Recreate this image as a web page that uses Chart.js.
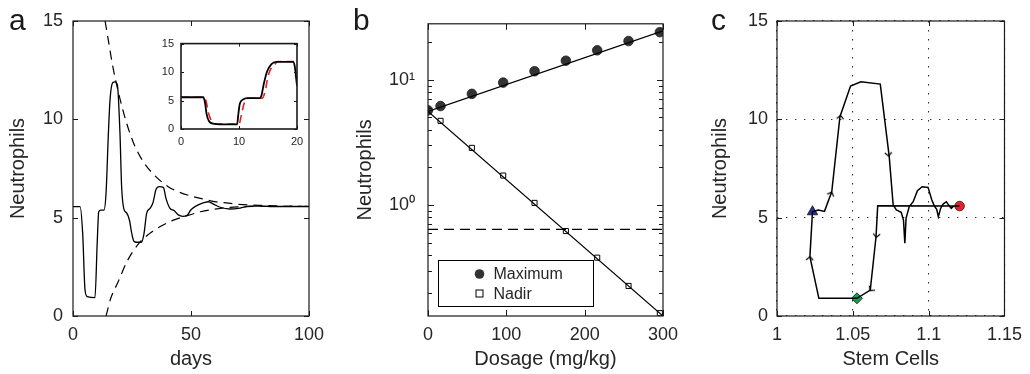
<!DOCTYPE html>
<html>
<head>
<meta charset="utf-8">
<script src="https://cdn.jsdelivr.net/npm/chart.js"></script>
<style>
  body { margin: 0; background: #fff; }
  #wrap { position: relative; width: 1030px; height: 374px; overflow: hidden; }
  canvas { position: absolute; }
  .tag { position: absolute; font: 30px "Liberation Sans", Arial, sans-serif; line-height: 30px; color: #1a1a1a; }
</style>
</head>
<body>
<div id="wrap">
  <canvas id="pa" width="340" height="374" style="left:0;top:0"></canvas>
  <canvas id="inset" width="165" height="125" style="left:150px;top:30px"></canvas>
  <canvas id="pb" width="350" height="374" style="left:340px;top:0"></canvas>
  <canvas id="pc" width="340" height="374" style="left:690px;top:0"></canvas>
  <div class="tag" style="left:9px;top:5px">a</div>
  <div class="tag" style="left:353px;top:5px">b</div>
  <div class="tag" style="left:711px;top:5px">c</div>
</div>
<script>
// ---- panel a: neutrophils over time
const daysA = [0, 3, 4.1, 5.1, 6.1, 9.3, 10.3, 10.9, 11.7, 13.1, 14.0, 15.0, 15.7, 16.8, 17.8, 18.8, 19.9, 20.6, 21.6, 22.7, 23.9, 24.9, 25.8, 27.0, 29.0, 30.1, 31.2, 32.6, 33.8, 35.2, 36.6, 38.3, 39.4, 41.1, 42.8, 44.6, 46.5, 48.2, 49.9, 51.7, 53.8, 55.5, 57.3, 59.5, 62.3, 66.5, 70.8, 75.0, 79.2, 84.9, 100];
const neutA = [5.56, 5.56, 4.2, 1.32, 0.98, 0.93, 3.86, 5.3, 5.38, 5.38, 6.24, 9.3, 11.0, 11.86, 11.9, 11.75, 9.3, 6.58, 5.42, 5.25, 4.88, 4.2, 3.8, 3.75, 3.75, 4.2, 5.22, 5.47, 5.73, 6.44, 6.58, 6.54, 5.98, 5.47, 5.36, 5.14, 5.07, 5.1, 5.39, 5.56, 5.69, 5.76, 5.81, 5.69, 5.53, 5.44, 5.49, 5.59, 5.59, 5.56, 5.56];
const upperDays = [13.6, 15, 17, 20, 23, 26, 30, 35, 40, 45, 50, 55, 60, 65, 70, 80, 90, 100];
const upperNeut = [15, 14, 12.6, 11.0, 9.7, 8.7, 7.8, 7.1, 6.6, 6.3, 6.1, 5.95, 5.82, 5.75, 5.68, 5.62, 5.59, 5.58];
const lowerDays = [14, 16, 19, 23, 28, 32, 37, 42, 47, 54, 61, 70, 80, 100];
const lowerNeut = [0, 0.9, 1.7, 2.8, 3.7, 4.15, 4.55, 4.85, 5.05, 5.3, 5.45, 5.55, 5.58, 5.58];
const xTicksA = [0, 50, 100];
const yTicksA = [0, 5, 10, 15];

// inset: model (black) vs data (red dashed), first 20 days
const insetT = [0, 3.84, 4.13, 4.41, 4.81, 5.56, 6.7, 9.68, 9.86, 10.14, 10.7, 11.4, 13.6, 13.87, 14.27, 14.84, 15.6, 16.4, 19.3, 19.6, 19.9, 20];
const insetN = [5.58, 5.58, 4.7, 2.67, 1.4, 0.93, 0.81, 0.81, 2.38, 4.42, 5.17, 5.41, 5.41, 5.87, 7.9, 10.1, 11.4, 11.8, 11.8, 11.1, 8.5, 7.6];
const insetRedT = [0, 4.0, 4.3, 4.7, 5.0, 5.5, 6.5, 10.0, 10.4, 10.8, 11.2, 11.8, 14.0, 14.5, 15.0, 15.6, 16.2, 16.7, 19.5];
const insetRedN = [5.58, 5.58, 5.0, 3.0, 2.0, 1.2, 0.85, 0.85, 2.4, 4.2, 5.2, 5.41, 5.41, 6.6, 9.2, 10.8, 11.4, 11.85, 11.85];
const xTicksInset = [0, 10, 20];
const yTicksInset = [0, 5, 10, 15];

// ---- panel b: dosage response
const dosage = [0, 16, 56, 96, 136, 176, 216, 256, 296];
const maxNeut = [5.71, 6.17, 7.72, 9.5, 11.7, 14.2, 17.2, 20.4, 24.0];
const nadirDose = [16, 56, 96, 136, 176, 216, 256, 296];
const nadirNeut = [4.7, 2.86, 1.72, 1.04, 0.62, 0.38, 0.226, 0.137];
const maxFitDose = [0, 300];
const maxFitNeut = [5.6, 24.6];
const nadirFitDose = [0, 300];
const nadirFitNeut = [5.6, 0.13];
const thresholdNeut = 0.64;
const legendLabels = ['Maximum', 'Nadir'];
const xTicksB = [0, 100, 200, 300];
const yTicksB = [0.2, 0.3, 0.4, 0.5, 0.6, 0.7, 0.8, 0.9, 1, 2, 3, 4, 5, 6, 7, 8, 9, 10, 20];
const yLabelsB = { 1: '10\u2070', 10: '10\u00b9' };

// ---- panel c: phase plane
const stemC = [1.1204, 1.0664, 1.0653, 1.0615, 1.0527, 1.0276, 1.0217, 1.0234, 1.0272, 1.0313, 1.0361, 1.0415, 1.0485, 1.0553, 1.0681, 1.0740, 1.0766, 1.0787, 1.0819, 1.0834, 1.0843, 1.0851, 1.0872, 1.0898, 1.0926, 1.0957, 1.0996, 1.1021, 1.1038, 1.1053, 1.1064, 1.1079, 1.1095, 1.1117, 1.1132, 1.1149, 1.1166, 1.1204];
const neutC = [5.59, 5.61, 4.03, 1.32, 0.90, 0.90, 3.02, 5.30, 5.39, 5.32, 6.32, 10.13, 11.69, 11.91, 11.79, 8.10, 5.64, 5.39, 5.27, 4.88, 3.70, 4.97, 5.56, 5.81, 6.37, 6.57, 6.54, 5.90, 5.59, 5.42, 5.05, 5.47, 5.69, 5.81, 5.64, 5.47, 5.59, 5.59];
const arrowX = [1.0419, 1.0361, 1.0736, 1.0655, 1.0613, 1.0217];
const arrowY = [10.2, 6.3, 8.13, 4.0, 1.29, 3.02];
const arrowRot = [6, 21, 174, 186, 220, 3];
const triangleC = [1.0234, 5.30];
const diamondC = [1.0527, 0.90];
const circleC = [1.1204, 5.59];
const xTicksC = [1, 1.05, 1.1, 1.15];
const xLabelsC = ['1', '1.05', '1.1', '1.15'];
const yTicksC = [0, 5, 10, 15];

Chart.defaults.font.family = '"Liberation Sans", Arial, sans-serif';
Chart.defaults.color = '#262626';

const pts = (xs, ys) => xs.map((x, i) => ({ x: x, y: ys[i] }));
const setTicks = arr => s => { s.ticks = arr.map(v => ({ value: v })); };

// box round the plot area and inward tick marks on all four sides
const boxTicks = {
  id: 'boxTicks',
  beforeDraw(chart, args, o) {
    if (!o.fill) return;
    const a = chart.chartArea;
    chart.ctx.save();
    chart.ctx.fillStyle = '#fff';
    chart.ctx.fillRect(a.left, a.top, a.right - a.left, a.bottom - a.top);
    chart.ctx.restore();
  },
  afterDatasetsDraw(chart, args, o) {
    const { ctx, chartArea: a, scales } = chart;
    const len = o.len || 5, minor = o.minorLen || len;
    ctx.save();
    ctx.strokeStyle = '#1a1a1a';
    ctx.lineWidth = o.width || 1;
    ctx.beginPath();
    scales.x.ticks.forEach(t => {
      const p = Math.round(scales.x.getPixelForValue(t.value)) + 0.5;
      const l = t.label === '' ? minor : len;
      ctx.moveTo(p, a.bottom); ctx.lineTo(p, a.bottom - l);
      ctx.moveTo(p, a.top); ctx.lineTo(p, a.top + l);
    });
    scales.y.ticks.forEach(t => {
      const p = Math.round(scales.y.getPixelForValue(t.value)) + 0.5;
      const l = t.label === '' ? minor : len;
      ctx.moveTo(a.left, p); ctx.lineTo(a.left + l, p);
      ctx.moveTo(a.right, p); ctx.lineTo(a.right - l, p);
    });
    ctx.stroke();
    ctx.lineWidth = o.boxWidth || 1.2;
    ctx.strokeRect(a.left, a.top, a.right - a.left, a.bottom - a.top);
    ctx.restore();
  }
};

// legend inside panel b, lower left
const legendBox = {
  id: 'legendBox',
  afterDraw(chart) {
    const { ctx, chartArea: a } = chart;
    const bx = Math.round(a.left + 10) + 0.5, by = Math.round(a.bottom - 56) + 0.5, bw = 155, bh = 46;
    ctx.save();
    ctx.fillStyle = '#fff';
    ctx.fillRect(bx, by, bw, bh);
    ctx.strokeStyle = '#000';
    ctx.lineWidth = 1;
    ctx.strokeRect(bx, by, bw, bh);
    const mx = bx + 41;
    // Maximum: filled circle
    ctx.fillStyle = '#333';
    ctx.beginPath(); ctx.arc(mx, by + 13.5, 4.8, 0, Math.PI * 2); ctx.fill();
    // Nadir: open square
    ctx.fillStyle = '#fff';
    ctx.fillRect(mx - 3.5, by + 29.5, 7, 7);
    ctx.strokeRect(mx - 3.5, by + 29.5, 7, 7);
    ctx.fillStyle = '#262626';
    ctx.font = '16px "Liberation Sans", Arial, sans-serif';
    ctx.textBaseline = 'middle';
    ctx.fillText(legendLabels[0], bx + 55, by + 14);
    ctx.fillText(legendLabels[1], bx + 55, by + 34);
    ctx.restore();
  }
};

const noGrid = { display: false, drawTicks: false };
const noBorder = { display: false };
const tickFont = { size: 18 };
const titleFont = { size: 20 };
const base = { responsive: false, animation: false, devicePixelRatio: 1, events: [] };

// ---------- panel a
new Chart(document.getElementById('pa'), {
  type: 'line',
  data: {
    datasets: [
      { data: pts(daysA, neutA), borderColor: '#000', borderWidth: 1.3, pointRadius: 0, cubicInterpolationMode: 'monotone' },
      { data: pts(upperDays, upperNeut), borderColor: '#000', borderWidth: 1.2, borderDash: [9, 6], pointRadius: 0, cubicInterpolationMode: 'monotone' },
      { data: pts(lowerDays, lowerNeut), borderColor: '#000', borderWidth: 1.2, borderDash: [9, 6], pointRadius: 0, cubicInterpolationMode: 'monotone' }
    ]
  },
  options: Object.assign({}, base, {
    layout: { padding: { left: 0, top: 21, right: 31, bottom: 0 } },
    plugins: { legend: { display: false }, tooltip: { enabled: false }, boxTicks: { len: 5 } },
    scales: {
      x: {
        type: 'linear', min: 0, max: 100, grid: noGrid, border: noBorder,
        afterBuildTicks: setTicks(xTicksA), afterFit: s => { s.height = 58; },
        ticks: { font: tickFont, padding: 8, maxRotation: 0 },
        title: { display: true, text: 'days', font: titleFont, padding: { top: 0, bottom: 3 } }
      },
      y: {
        type: 'linear', min: 0, max: 15, grid: noGrid, border: noBorder,
        afterBuildTicks: setTicks(yTicksA), afterFit: s => { s.width = 73; },
        ticks: { font: tickFont, padding: 10 },
        title: { display: true, text: 'Neutrophils', font: titleFont, padding: { top: 6.5, bottom: 0 } }
      }
    }
  }),
  plugins: [boxTicks]
});

// ---------- inset
new Chart(document.getElementById('inset'), {
  type: 'line',
  data: {
    datasets: [
      { data: pts(insetT, insetN), borderColor: '#000', borderWidth: 1.8, pointRadius: 0, cubicInterpolationMode: 'monotone' },
      { data: pts(insetRedT, insetRedN), borderColor: '#e0202a', borderWidth: 1.6, borderDash: [8, 5], pointRadius: 0, cubicInterpolationMode: 'monotone' }
    ]
  },
  options: Object.assign({}, base, {
    layout: { padding: { left: 0, top: 13, right: 18, bottom: 0 } },
    plugins: { legend: { display: false }, tooltip: { enabled: false }, boxTicks: { len: 3, fill: true, boxWidth: 1.6 } },
    scales: {
      x: {
        type: 'linear', min: 0, max: 20, grid: noGrid, border: noBorder,
        afterBuildTicks: setTicks(xTicksInset), afterFit: s => { s.height = 26; },
        ticks: { font: { size: 11 }, padding: 6, maxRotation: 0 }
      },
      y: {
        type: 'linear', min: 0, max: 15, grid: noGrid, border: noBorder,
        afterBuildTicks: setTicks(yTicksInset), afterFit: s => { s.width = 31; },
        ticks: { font: { size: 11 }, padding: 7 }
      }
    }
  }),
  plugins: [boxTicks]
});

// ---------- panel b
new Chart(document.getElementById('pb'), {
  type: 'line',
  data: {
    datasets: [
      { data: pts(maxFitDose, maxFitNeut), borderColor: '#000', borderWidth: 1.2, pointRadius: 0 },
      { data: pts(nadirFitDose, nadirFitNeut), borderColor: '#000', borderWidth: 1.2, pointRadius: 0 },
      { data: pts(maxFitDose, [thresholdNeut, thresholdNeut]), borderColor: '#000', borderWidth: 1.2, borderDash: [10, 6], pointRadius: 0 },
      { data: pts(dosage, maxNeut), showLine: false, pointStyle: 'circle', pointRadius: 4.8, pointBackgroundColor: '#333', pointBorderColor: '#222', pointBorderWidth: 0.8 },
      { data: pts(nadirDose, nadirNeut), showLine: false, pointStyle: 'rect', pointRadius: 3.6, pointBackgroundColor: '#fff', pointBorderColor: '#000', pointBorderWidth: 1 }
    ]
  },
  options: Object.assign({}, base, {
    layout: { padding: { left: 0, top: 21, right: 27, bottom: 0 } },
    plugins: { legend: { display: false }, tooltip: { enabled: false }, boxTicks: { len: 6, minorLen: 4 } },
    scales: {
      x: {
        type: 'linear', min: 0, max: 300, grid: noGrid, border: noBorder,
        afterBuildTicks: setTicks(xTicksB), afterFit: s => { s.height = 58; },
        ticks: { font: tickFont, padding: 8, maxRotation: 0 },
        title: { display: true, text: 'Dosage (mg/kg)', font: titleFont, padding: { top: 0, bottom: 3 } }
      },
      y: {
        type: 'logarithmic', min: 0.13, max: 28, grid: noGrid, border: noBorder,
        afterBuildTicks: setTicks(yTicksB), afterFit: s => { s.width = 88; },
        ticks: { font: tickFont, padding: 13, autoSkip: false, callback: v => yLabelsB[v] || '' },
        title: { display: true, text: 'Neutrophils', font: titleFont, padding: { top: 13, bottom: 0 } }
      }
    }
  }),
  plugins: [boxTicks, legendBox]
});

// ---------- panel c
function arrowHead() {
  const c = document.createElement('canvas');
  c.width = 11; c.height = 11;
  const g = c.getContext('2d');
  g.strokeStyle = '#000'; g.lineWidth = 1.1;
  g.beginPath(); g.moveTo(2, 9); g.lineTo(5.5, 5.5); g.lineTo(9, 9); g.stroke();
  return c;
}
const arrowImg = arrowHead();
const dotted = { display: false, dash: [1.4, 7.6] };
const dotGrid = { drawTicks: false, color: '#333', lineWidth: 1.1 };

new Chart(document.getElementById('pc'), {
  type: 'line',
  data: {
    datasets: [
      { data: pts(stemC, neutC), borderColor: '#000', borderWidth: 1.5, pointRadius: 0, tension: 0 },
      { data: pts(arrowX, arrowY), showLine: false, pointStyle: arrowImg, pointRadius: 4, rotation: c => arrowRot[c.dataIndex] },
      { data: [{ x: triangleC[0], y: triangleC[1] }], showLine: false, pointStyle: 'triangle', pointRadius: 6, pointBackgroundColor: '#2e3192', pointBorderColor: '#111', pointBorderWidth: 0.8 },
      { data: [{ x: diamondC[0], y: diamondC[1] }], showLine: false, pointStyle: 'rectRot', pointRadius: 5.5, pointBackgroundColor: '#17a04c', pointBorderColor: '#111', pointBorderWidth: 0.8 },
      { data: [{ x: circleC[0], y: circleC[1] }], showLine: false, pointStyle: 'circle', pointRadius: 4.8, pointBackgroundColor: '#e8202a', pointBorderColor: '#222', pointBorderWidth: 0.8 }
    ]
  },
  options: Object.assign({}, base, {
    layout: { padding: { left: 0, top: 21, right: 18, bottom: 0 } },
    plugins: { legend: { display: false }, tooltip: { enabled: false }, boxTicks: { len: 5 } },
    scales: {
      x: {
        type: 'linear', min: 1, max: 1.15, border: dotted, grid: dotGrid,
        afterBuildTicks: setTicks(xTicksC), afterFit: s => { s.height = 58; },
        ticks: { font: tickFont, padding: 8, maxRotation: 0, callback: (v, i) => xLabelsC[i] },
        title: { display: true, text: 'Stem Cells', font: titleFont, padding: { top: 0, bottom: 3 } }
      },
      y: {
        type: 'linear', min: 0, max: 15, border: dotted, grid: dotGrid,
        afterBuildTicks: setTicks(yTicksC), afterFit: s => { s.width = 87; },
        ticks: { font: tickFont, padding: 9 },
        title: { display: true, text: 'Neutrophils', font: titleFont, padding: { top: 18.5, bottom: 0 } }
      }
    }
  }),
  plugins: [boxTicks]
});
</script>
</body>
</html>
